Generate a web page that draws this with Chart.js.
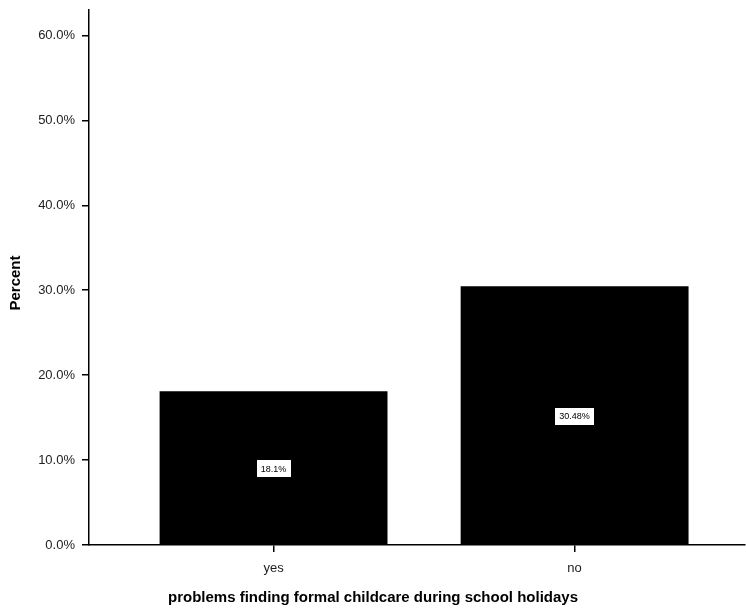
<!DOCTYPE html>
<html>
<head>
<meta charset="utf-8">
<script src="https://cdn.jsdelivr.net/npm/chart.js@4/dist/chart.umd.min.js"></script>
<style>
  html, body { margin: 0; padding: 0; background: #fff; }
  #wrap { width: 746px; height: 608px; }
</style>
</head>
<body>
<div id="wrap"><canvas id="chart" width="746" height="608"></canvas></div>
<script>
// chart data
const categories = ['yes', 'no'];
const percentValues = [18.1, 30.48];
const valueLabels = ['18.1%', '30.48%'];
const yTicks = [0, 10, 20, 30, 40, 50, 60];
const xTitle = 'problems finding formal childcare during school holidays';
const yTitle = 'Percent';

const FONT = '"Liberation Sans", Arial, Helvetica, sans-serif';

// bars sit on a linear x axis at 1, 2 ... so the axis line can run past them
const points = categories.map((c, i) => ({ x: i + 1, y: percentValues[i] }));

// white boxes with the value in the middle of each bar
const barLabels = {
  id: 'barLabels',
  afterDatasetsDraw(chart) {
    const ctx = chart.ctx;
    const meta = chart.getDatasetMeta(0);
    ctx.save();
    ctx.font = '9px ' + FONT;
    ctx.textAlign = 'center';
    ctx.textBaseline = 'middle';
    meta.data.forEach((bar, i) => {
      const text = valueLabels[i];
      const cx = bar.x;
      const cy = (bar.y + bar.base) / 2 + 1;
      const w = ctx.measureText(text).width + 8;
      const h = 17;
      ctx.fillStyle = '#fff';
      ctx.fillRect(Math.round(cx - w / 2), Math.round(cy - h / 2), Math.round(w), h);
      ctx.fillStyle = '#000';
      ctx.fillText(text, cx, cy + 0.5);
    });
    ctx.restore();
  }
};

// axis titles: the x title is centred on the whole page, not the plot
const axisTitles = {
  id: 'axisTitles',
  afterDraw(chart) {
    const ctx = chart.ctx;
    ctx.save();
    ctx.fillStyle = '#000';
    ctx.font = 'bold 15px ' + FONT;
    ctx.textAlign = 'center';
    ctx.textBaseline = 'middle';
    ctx.fillText(xTitle, chart.width / 2, 598);
    ctx.translate(16, 283);
    ctx.rotate(-Math.PI / 2);
    ctx.fillText(yTitle, 0, 0);
    ctx.restore();
  }
};

new Chart(document.getElementById('chart'), {
  type: 'bar',
  data: {
    datasets: [{
      data: points,
      backgroundColor: '#000',
      borderWidth: 0,
      barPercentage: 0.757,
      categoryPercentage: 1
    }]
  },
  options: {
    responsive: false,
    animation: false,
    layout: { padding: { top: 10, right: 1, left: 0, bottom: 0 } },
    plugins: {
      legend: { display: false },
      tooltip: { enabled: false }
    },
    scales: {
      x: {
        type: 'linear',
        offset: false,
        min: 0.387,
        max: 2.566,
        afterBuildTicks(scale) {
          scale.ticks = categories.map((c, i) => ({ value: i + 1 }));
        },
        afterFit(scale) {
          scale.height = 63;
          scale.paddingLeft = 0;
          scale.paddingRight = 0;
        },
        ticks: {
          autoSkip: false,
          maxRotation: 0,
          padding: 9,
          color: '#222',
          font: { family: FONT, size: 13 },
          callback: (v) => categories[v - 1]
        },
        grid: { offset: false, drawOnChartArea: false, drawTicks: true, tickLength: 7, color: '#000', lineWidth: 1.5 },
        border: { display: true, color: '#000', width: 1.5 },
        title: { display: false }
      },
      y: {
        min: 0,
        max: 63,
        afterBuildTicks(scale) {
          scale.ticks = yTicks.map(v => ({ value: v }));
        },
        afterFit(scale) {
          scale.width = 89;
          scale.paddingTop = 0;
          scale.paddingBottom = 0;
        },
        ticks: {
          padding: 7,
          color: '#222',
          font: { family: FONT, size: 13 },
          callback: (v) => v.toFixed(1) + '%'
        },
        grid: { drawOnChartArea: false, drawTicks: true, tickLength: 7, color: '#000', lineWidth: 1.5 },
        border: { display: true, color: '#000', width: 1.5 },
        title: { display: false }
      }
    }
  },
  plugins: [barLabels, axisTitles]
});
</script>
</body>
</html>
